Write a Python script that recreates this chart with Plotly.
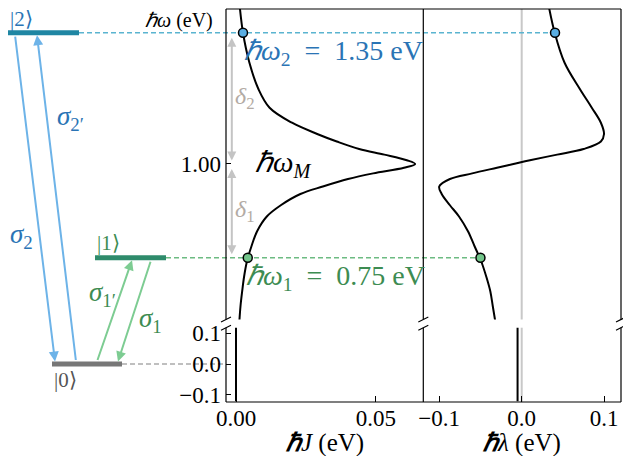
import plotly.graph_objects as go

# ---- data ----
OMEGA = [0.58, 0.62, 0.66, 0.70, 0.74, 0.78, 0.82, 0.86, 0.89, 0.92, 0.94, 0.96, 0.975,
         0.99, 1.00, 1.01, 1.025, 1.04, 1.06, 1.08, 1.11, 1.15, 1.20, 1.27, 1.35, 1.43]
J_UP = [0.0012, 0.0016, 0.0022, 0.0029, 0.0039, 0.0055, 0.0075, 0.0110, 0.0160, 0.0230,
        0.0310, 0.0400, 0.0490, 0.0600, 0.0640, 0.0610, 0.0530, 0.0440, 0.0360, 0.0290,
        0.0200, 0.0120, 0.0080, 0.0048, 0.0025, 0.0012]
LAM_UP = [-0.032, -0.035, -0.038, -0.043, -0.049, -0.057, -0.065, -0.076, -0.087, -0.097,
          -0.100, -0.087, -0.060, -0.030, -0.010, 0.010, 0.043, 0.075, 0.096, 0.0998,
          0.096, 0.085, 0.0705, 0.052, 0.040, 0.032]

OMEGA_LOW = [-0.12, 0.12]
J_LOW = [0.0, 0.0]
LAM_LOW = [-0.005, -0.005]

LEVEL_E = [0.0, 0.75, 1.35]          # |0>, |1>, |2>
OMEGA_M = 1.00
MARK_OMEGA = [0.75, 1.35]
MARK_J = [0.0042, 0.0025]
MARK_LAM = [-0.050, 0.0404]

J_TICKS = [0.0, 0.05]
LAM_TICKS = [-0.1, 0.0, 0.1]
E_TICKS_UP = [1.0]
E_TICKS_LOW = [-0.1, 0.0, 0.1]

# ---- styling / layout ----
FONT = "Liberation Serif"
BLUE_LEVEL, BLUE_ARROW, BLUE_TEXT = "#1f86a3", "#6db3e8", "#2a74b5"
BLUE_DASH, BLUE_MARK = "#5ab4d0", "#5aaee3"
GREEN_LEVEL, GREEN_ARROW, GREEN_TEXT = "#2e8b6b", "#7dcc92", "#3d8c52"
GREEN_DASH, GREEN_MARK = "#6dbb82", "#72c58a"
GRAY_LEVEL, GRAY_DASH = "#777777", "#aaaaaa"
DELTA_ARROW, DELTA_TEXT = "#c4c4c4", "#b3aba4"

# the page puts the figure 8px in from the window corner; positions below are window pixels
OFF = 8
W, H = 631 - OFF, 456 - OFF
MARGIN = dict(l=0, r=10, t=1, b=54)
PW = W - MARGIN["l"] - MARGIN["r"]
PH = H - MARGIN["t"] - MARGIN["b"]
X0 = OFF + MARGIN["l"]
Y1 = OFF + MARGIN["t"] + PH        # window y of the plot-area bottom


def px_x(px):
    return (px - X0) / PW


def px_y(py):
    return (Y1 - py) / PH


DOM_J = [px_x(226), px_x(423.3)]
DOM_L = [px_x(423.3), 1.0]
DOM_UP = [px_y(319.5), 1.0]
DOM_LOW = [0.0, px_y(327.7)]

X_J = [-0.00357, 0.0669]
X_L = [-0.1193, 0.1204]
Y_UP = [0.5853, 1.4133]
Y_LOW = [-0.1226, 0.1171]


def to_paper(v, rng, dom):
    return dom[0] + (v - rng[0]) / (rng[1] - rng[0]) * (dom[1] - dom[0])


def level_y(e):
    if e >= Y_UP[0]:
        return to_paper(e, Y_UP, DOM_UP)
    return to_paper(e, Y_LOW, DOM_LOW)


fig = go.Figure()

line = dict(color="black", width=2)
fig.add_trace(go.Scatter(x=J_UP, y=OMEGA, mode="lines", line=line, line_shape="spline",
                         xaxis="x", yaxis="y"))
fig.add_trace(go.Scatter(x=LAM_UP, y=OMEGA, mode="lines", line=line, line_shape="spline",
                         xaxis="x2", yaxis="y2"))
fig.add_trace(go.Scatter(x=J_LOW, y=OMEGA_LOW, mode="lines", line=line, xaxis="x3", yaxis="y3"))
fig.add_trace(go.Scatter(x=LAM_LOW, y=OMEGA_LOW, mode="lines", line=line, xaxis="x4", yaxis="y4"))

mark = dict(size=9, color=[GREEN_MARK, BLUE_MARK], line=dict(color="black", width=1.5))
fig.add_trace(go.Scatter(x=MARK_J, y=MARK_OMEGA, mode="markers", marker=mark,
                         xaxis="x", yaxis="y", cliponaxis=False))
fig.add_trace(go.Scatter(x=MARK_LAM, y=MARK_OMEGA, mode="markers", marker=mark,
                         xaxis="x2", yaxis="y2", cliponaxis=False))

shapes = []
# lambda = 0 guide lines
for xr, yr in (("x2", "y2 domain"), ("x4", "y4 domain")):
    shapes.append(dict(type="line", xref=xr, yref=yr, x0=0, x1=0, y0=0, y1=1,
                       line=dict(color="#c8c8c8", width=2), layer="below"))

# spines (drawn as shapes so that every side shows up)
spine = dict(color="black", width=1.2)
for ydom, yedge in ((DOM_UP, 1.0), (DOM_LOW, 0.0)):
    for xv in (DOM_J[0], DOM_J[1], DOM_L[1]):
        shapes.append(dict(type="line", xref="paper", yref="paper", x0=xv, x1=xv,
                           y0=ydom[0], y1=ydom[1], line=spine))
    shapes.append(dict(type="line", xref="paper", yref="paper", x0=DOM_J[0], x1=DOM_L[1],
                       y0=yedge, y1=yedge, line=spine))

# energy levels
LEVEL_XPX = [(52, 122), (95, 166), (8, 79)]
LEVEL_COL = [GRAY_LEVEL, GREEN_LEVEL, BLUE_LEVEL]
for e, (a, b), c in zip(LEVEL_E, LEVEL_XPX, LEVEL_COL):
    y = level_y(e)
    shapes.append(dict(type="line", xref="paper", yref="paper", x0=px_x(a), x1=px_x(b),
                       y0=y, y1=y, line=dict(color=c, width=5)))

# dashed guides from the levels to the curves
dash = "5px,3px"
shapes.append(dict(type="line", xref="paper", yref="paper", layer="below",
                   x0=px_x(LEVEL_XPX[2][1]), x1=to_paper(MARK_LAM[1], X_L, DOM_L),
                   y0=level_y(LEVEL_E[2]), y1=level_y(LEVEL_E[2]),
                   line=dict(color=BLUE_DASH, width=1.5, dash=dash)))
shapes.append(dict(type="line", xref="paper", yref="paper", layer="below",
                   x0=px_x(LEVEL_XPX[1][1]), x1=to_paper(MARK_LAM[0], X_L, DOM_L),
                   y0=level_y(LEVEL_E[1]), y1=level_y(LEVEL_E[1]),
                   line=dict(color=GREEN_DASH, width=1.5, dash=dash)))
shapes.append(dict(type="line", xref="paper", yref="paper", layer="below",
                   x0=px_x(LEVEL_XPX[0][1]), x1=DOM_J[0],
                   y0=level_y(LEVEL_E[0]), y1=level_y(LEVEL_E[0]),
                   line=dict(color=GRAY_DASH, width=1.5, dash=dash)))

# axis-break marks
for xs in (226, 423.3, 621):
    for ys in (319.5, 327.7):
        shapes.append(dict(type="line", xref="paper", yref="paper",
                           x0=px_x(xs - 5), x1=px_x(xs + 5),
                           y0=px_y(ys + 2.5), y1=px_y(ys - 2.5),
                           line=dict(color="black", width=1.2)))

ann = []
# transition arrows: (tail level, tail x px, head level, head x px, colour)
ARROWS = [(2, 15, 0, 55, BLUE_ARROW), (0, 76, 2, 37, BLUE_ARROW),
          (0, 97, 1, 132, GREEN_ARROW), (1, 151, 0, 118, GREEN_ARROW)]
edge = 2.5 / PH
for tl, tx, hl, hx, c in ARROWS:
    ty, hy = level_y(LEVEL_E[tl]), level_y(LEVEL_E[hl])
    sgn = 1 if hy > ty else -1
    ty += sgn * edge
    hy -= sgn * edge
    ann.append(dict(xref="paper", yref="paper", x=px_x(hx), y=hy, text="",
                    showarrow=True, ax=(tx - hx), ay=-(ty - hy) * PH,
                    arrowhead=2, arrowsize=1, arrowwidth=2, arrowcolor=c))

# delta arrows in the J panel
DX = -0.0015
gap = 3.5 / 375
for top, bot in ((LEVEL_E[2] - gap, OMEGA_M + gap), (OMEGA_M - gap, LEVEL_E[1] + gap)):
    ann.append(dict(xref="x", yref="y", axref="x", ayref="y", x=DX, y=bot, ax=DX, ay=top,
                    text="", showarrow=True, arrowside="end+start", arrowhead=2,
                    arrowsize=0.9, arrowwidth=2, arrowcolor=DELTA_ARROW))


def label(text, x, y, color, size, xanchor="center", yanchor="middle", xref="paper",
          yref="paper", xshift=0, yshift=0):
    ann.append(dict(text=text, x=x, y=y, xref=xref, yref=yref, xanchor=xanchor,
                    yanchor=yanchor, xshift=xshift, yshift=yshift, showarrow=False,
                    font=dict(family=FONT, size=size, color=color)))


label("|2⟩", px_x(LEVEL_XPX[2][0]), level_y(LEVEL_E[2]), BLUE_TEXT, 21,
      xanchor="left", yanchor="bottom", yshift=0)
label("|1⟩", px_x(LEVEL_XPX[1][0]), level_y(LEVEL_E[1]), GREEN_TEXT, 21,
      xanchor="left", yanchor="bottom", yshift=1)
label("|0⟩", px_x(LEVEL_XPX[0][0]), level_y(LEVEL_E[0]), "#555555", 21,
      xanchor="left", yanchor="top", yshift=-2)

label("<i>σ</i><sub>2</sub>", px_x(21), px_y(236), BLUE_TEXT, 27)
label("<i>σ</i><sub>2′</sub>", px_x(70), px_y(118), BLUE_TEXT, 27)
label("<i>σ</i><sub>1′</sub>", px_x(102), px_y(294), GREEN_TEXT, 27)
label("<i>σ</i><sub>1</sub>", px_x(150), px_y(320), GREEN_TEXT, 27)

label("<i>δ</i><sub>2</sub>", DX, (LEVEL_E[2] + OMEGA_M) / 2, DELTA_TEXT, 24,
      xanchor="left", xref="x", yref="y", xshift=1)
label("<i>δ</i><sub>1</sub>", DX, (LEVEL_E[1] + OMEGA_M) / 2, DELTA_TEXT, 24,
      xanchor="left", xref="x", yref="y", xshift=1)
label("<i>ℏω</i><sub><i>M</i></sub>", DX, OMEGA_M, "black", 29,
      xanchor="left", xref="x", yref="y", xshift=21)

label("<i>ℏω</i><sub>2</sub>\u2002=\u20021.35 eV", MARK_J[1], MARK_OMEGA[1], BLUE_TEXT, 28,
      xanchor="left", yanchor="top", xref="x", yref="y", xshift=-1, yshift=0)
label("<i>ℏω</i><sub>1</sub>\u2002=\u20020.75 eV", MARK_J[0], MARK_OMEGA[0], GREEN_TEXT, 28,
      xanchor="left", yanchor="top", xref="x", yref="y", xshift=-4, yshift=0)

label("<i>ℏω</i> (eV)", px_x(143), 1, "black", 20, xanchor="left", yanchor="top",
      yref="y domain", yshift=2)
label("<b><i>ℏ</i></b><i>J</i> (eV)", 0.5, 0, "black", 25, yanchor="bottom",
      xref="x3 domain", yref="paper", yshift=-MARGIN["b"] - 3)
label("<b><i>ℏ</i></b><i>λ</i> (eV)", 0, 0, "black", 25, yanchor="bottom",
      xref="x4", yref="paper", yshift=-MARGIN["b"] - 3)

common = dict(showgrid=False, zeroline=False, automargin=False, showline=False)
tickfont = dict(family=FONT, size=23, color="black")
yticks = dict(ticks="inside", ticklen=5, tickcolor="black", tickwidth=1.2, tickfont=tickfont,
              ticklabelstandoff=4)
xticks = dict(ticks="inside", ticklen=6, tickcolor="black", tickwidth=1.2, tickfont=tickfont)

fig.update_layout(
    width=W, height=H, margin=MARGIN, showlegend=False,
    paper_bgcolor="white", plot_bgcolor="rgba(0,0,0,0)",
    font=dict(family=FONT, size=22, color="black"),
    shapes=shapes, annotations=ann,
    xaxis=dict(domain=DOM_J, range=X_J, anchor="y", side="top", showticklabels=False,
               ticks="", **common),
    yaxis=dict(domain=DOM_UP, range=Y_UP, anchor="x", tickvals=E_TICKS_UP,
               tickformat=".2f", **yticks, **common),
    xaxis2=dict(domain=DOM_L, range=X_L, anchor="y2", side="top", showticklabels=False,
                ticks="", **common),
    yaxis2=dict(domain=DOM_UP, range=Y_UP, anchor="x2", showticklabels=False,
                ticks="", **common),
    xaxis3=dict(domain=DOM_J, range=X_J, anchor="y3", tickvals=J_TICKS, tickformat=".2f",
                **xticks, **common),
    yaxis3=dict(domain=DOM_LOW, range=Y_LOW, anchor="x3", tickvals=E_TICKS_LOW,
                tickformat=".1f", **yticks, **common),
    xaxis4=dict(domain=DOM_L, range=X_L, anchor="y4", tickvals=LAM_TICKS, tickformat=".1f",
                **xticks, **common),
    yaxis4=dict(domain=DOM_LOW, range=Y_LOW, anchor="x4", showticklabels=False,
                ticks="", **common),
)

fig.write_html("out.html")
